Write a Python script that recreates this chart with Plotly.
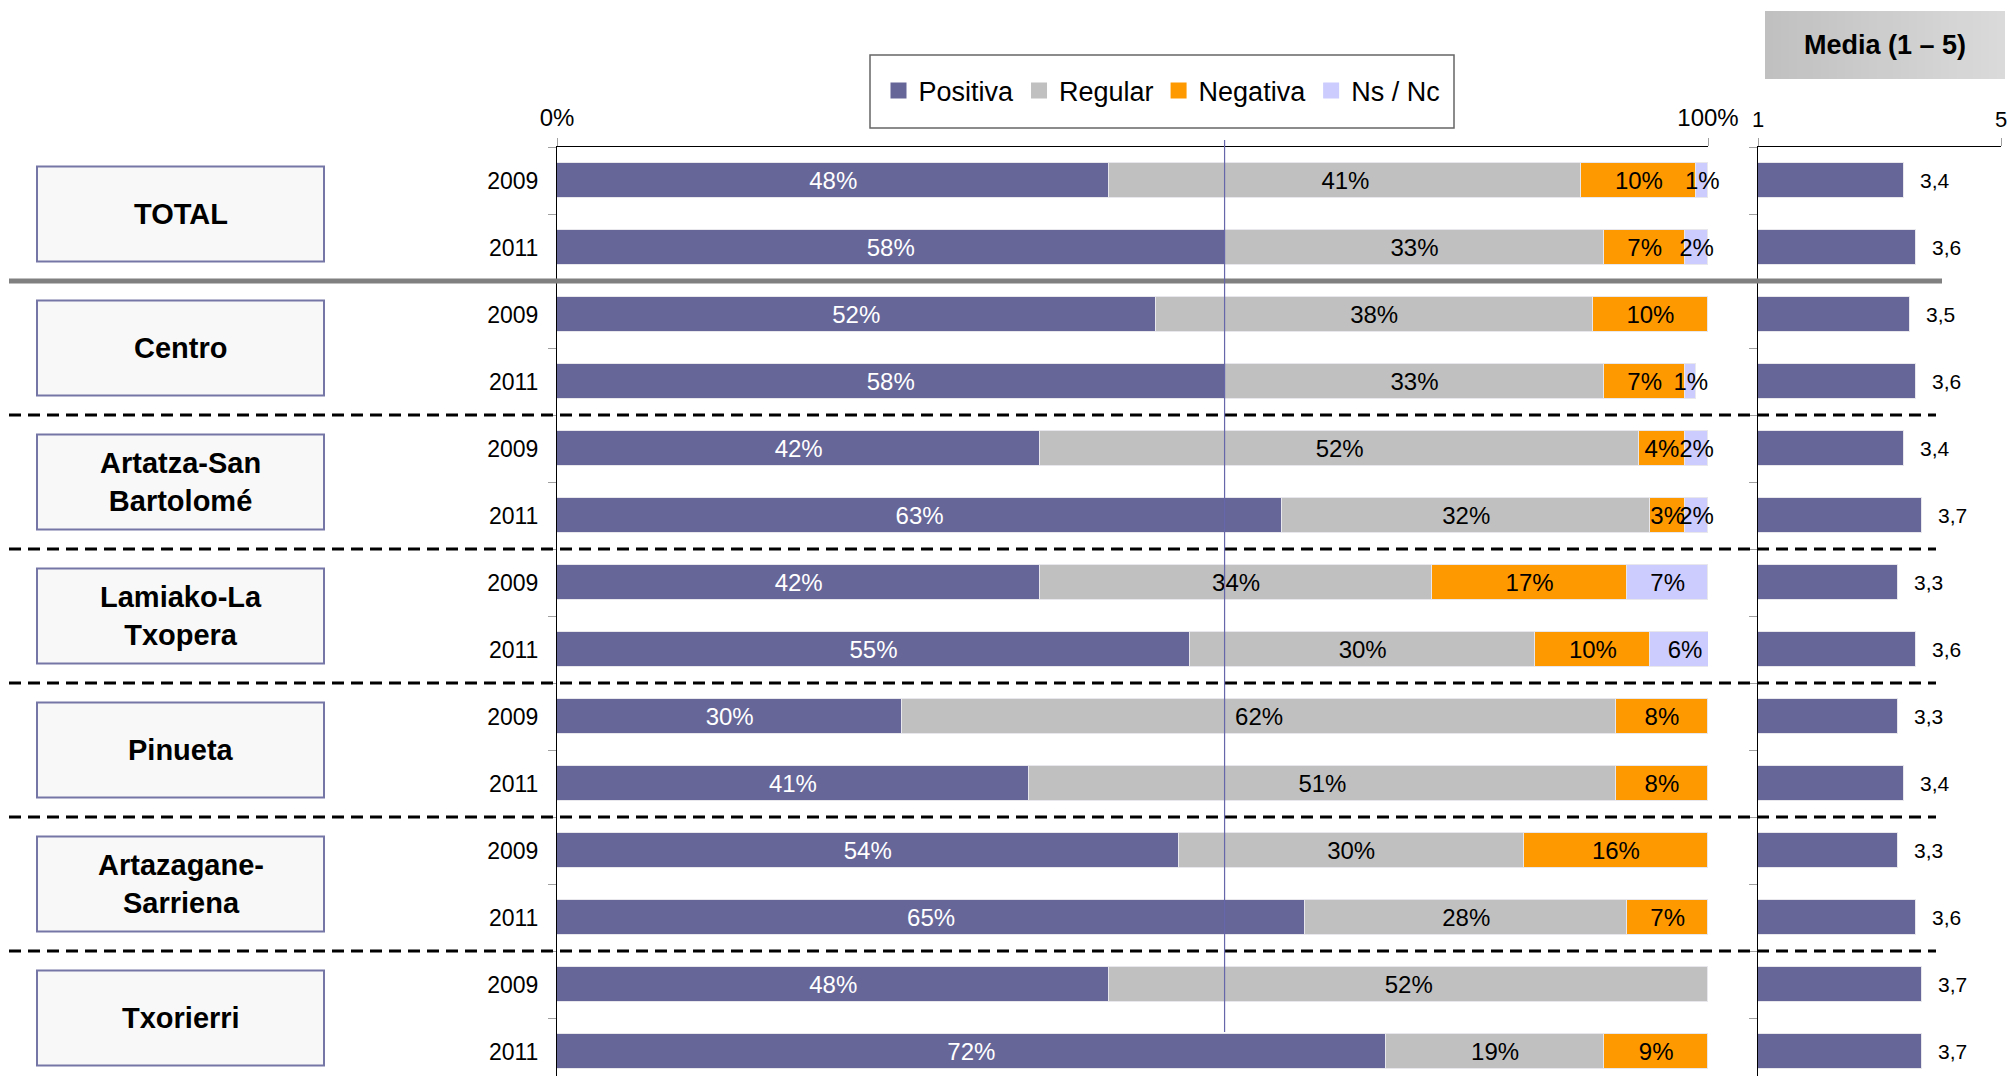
import plotly.graph_objects as go

# ---------------- data ----------------
groups = ["TOTAL", "Centro", "Artatza-San<br>Bartolomé", "Lamiako-La<br>Txopera",
          "Pinueta", "Artazagane-<br>Sarriena", "Txorierri"]
years = ["2009", "2011"]
series_names = ["Positiva", "Regular", "Negativa", "Ns / Nc"]
positiva = [48, 58, 52, 58, 42, 63, 42, 55, 30, 41, 54, 65, 48, 72]
regular = [41, 33, 38, 33, 52, 32, 34, 30, 62, 51, 30, 28, 52, 19]
negativa = [10, 7, 10, 7, 4, 3, 17, 10, 8, 8, 16, 7, 0, 9]
nsnc = [1, 2, 0, 1, 2, 2, 7, 6, 0, 0, 0, 0, 0, 0]
media = [3.4, 3.6, 3.5, 3.6, 3.4, 3.7, 3.3, 3.6, 3.3, 3.4, 3.3, 3.6, 3.7, 3.7]
x_ticks_main = [0, 100]
x_ticklabels_main = ["0%", "100%"]
x_ticks_media = [1, 5]
x_ticklabels_media = ["1", "5"]

# ---------------- style ----------------
W, H = 2009, 1076
FONT = "Liberation Sans, Arial, sans-serif"
colors = ["#666699", "#C0C0C0", "#FF9900", "#CCCCFF"]
text_colors = ["white", "black", "black", "black"]
edge = "rgba(232,232,236,1)"

n = len(positiva)
ypos = list(range(n))
ytext = [years[i % 2] for i in range(n)]


def px_x(p):
    return p / W


def px_y(p):
    return 1 - p / H


top_px = 147
band_px = 67
y_top = -0.5
y_bottom = y_top + (H - top_px) / band_px
label_drop = 0.04  # small downward nudge of segment labels (in band units)

fig = go.Figure()

series = [positiva, regular, negativa, nsnc]
# stacked bars
for name, vals, c in zip(series_names, series, colors):
    fig.add_trace(go.Bar(
        name=name, orientation="h", y=ypos, x=[v if v else None for v in vals],
        marker=dict(color=c, line=dict(color=edge, width=1)),
        width=0.51, showlegend=False, hoverinfo="skip",
        xaxis="x", yaxis="y",
    ))

# segment labels, placed at the middle of each stacked segment
base = [0] * n
for name, vals, tc in zip(series_names, series, text_colors):
    xs, ys, ts = [], [], []
    for i, v in enumerate(vals):
        if v:
            xs.append(base[i] + v / 2)
            ys.append(i + label_drop)
            ts.append(f"{v}%")
        base[i] += v
    fig.add_trace(go.Scatter(
        x=xs, y=ys, text=ts, mode="text", textposition="middle center",
        textfont=dict(family=FONT, size=24, color=tc),
        cliponaxis=False, showlegend=False, hoverinfo="skip",
        xaxis="x", yaxis="y",
    ))

# legend entries (square swatches)
for name, c in zip(series_names, colors):
    fig.add_trace(go.Scatter(
        x=[None], y=[None], mode="markers", name=name,
        marker=dict(symbol="square", size=16, color=c),
        xaxis="x", yaxis="y",
    ))

# media bars
fig.add_trace(go.Bar(
    name="Media", orientation="h", y=ypos, x=media,
    marker=dict(color=colors[0], line=dict(color=edge, width=1)),
    width=0.51, showlegend=False, hoverinfo="skip",
    xaxis="x2", yaxis="y2",
))

annotations = []
for yv, m in zip(ypos, media):
    annotations.append(dict(
        x=m, y=yv, xref="x2", yref="y2", xanchor="left", yanchor="middle",
        xshift=14, showarrow=False,
        text=f"{m:.1f}".replace(".", ","),
        font=dict(family=FONT, size=21, color="black"),
    ))

shapes = []
for gi, g in enumerate(groups):
    yc = gi * 2 + 0.5
    shapes.append(dict(
        type="rect", xref="paper", yref="y",
        x0=px_x(37), x1=px_x(324), y0=yc - 0.71, y1=yc + 0.71,
        line=dict(color="#7676A6", width=2), fillcolor="#F8F8F8", layer="above",
    ))
    annotations.append(dict(
        x=px_x(180.5), y=yc, xref="paper", yref="y", showarrow=False,
        text=f"<b>{g}</b>", font=dict(family=FONT, size=29, color="black"),
        xanchor="center", yanchor="middle",
    ))

shapes.append(dict(type="line", xref="paper", yref="y", x0=px_x(9), x1=px_x(1942),
                   y0=1.5, y1=1.5, line=dict(color="#808080", width=5), layer="above"))
for gi in range(1, len(groups) - 1):
    yb = gi * 2 + 1.5
    shapes.append(dict(type="line", xref="paper", yref="y", x0=px_x(9), x1=px_x(1936),
                       y0=yb, y1=yb, line=dict(color="black", width=3, dash="12px,7px"),
                       layer="above"))

shapes.append(dict(type="line", xref="x", yref="paper", x0=positiva[1], x1=positiva[1],
                   y0=px_y(140), y1=px_y(1032), line=dict(color="#6666AA", width=1.2),
                   layer="above"))

shapes.append(dict(type="rect", xref="paper", yref="paper",
                   x0=px_x(870), x1=px_x(1454), y0=px_y(55), y1=px_y(128),
                   line=dict(color="#666666", width=1.5), fillcolor="rgba(0,0,0,0)"))

hx0, hx1 = 1765, 2005
nsl = 30
c0, c1 = 192, 218
for i in range(nsl):
    a = hx0 + (hx1 - hx0) * i / nsl
    b = hx0 + (hx1 - hx0) * (i + 1) / nsl + 0.6
    v = round(c0 + (c1 - c0) * i / (nsl - 1))
    shapes.append(dict(type="rect", xref="paper", yref="paper",
                       x0=px_x(a), x1=px_x(min(b, hx1)), y0=px_y(11), y1=px_y(79),
                       line=dict(width=0), fillcolor=f"rgb({v},{v},{v})", layer="below"))
annotations.append(dict(x=px_x(1885), y=px_y(45), xref="paper", yref="paper",
                        showarrow=False, text="<b>Media (1 – 5)</b>",
                        font=dict(family=FONT, size=27, color="black"),
                        xanchor="center", yanchor="middle"))

minor_vals = [y_top + i for i in range(n + 1)]
ydom = [0, px_y(top_px)]

fig.update_layout(
    template="none",
    width=W, height=H,
    margin=dict(l=0, r=0, t=0, b=0, pad=0),
    paper_bgcolor="white", plot_bgcolor="white",
    barmode="stack", bargap=0,
    font=dict(family=FONT, size=24, color="black"),
    showlegend=True,
    legend=dict(orientation="h", x=px_x(1162), xanchor="center", y=px_y(91),
                yanchor="middle", font=dict(family=FONT, size=27, color="black"),
                bgcolor="rgba(0,0,0,0)", borderwidth=0, traceorder="normal",
                itemwidth=30, tracegroupgap=0),
    xaxis=dict(domain=[px_x(557), px_x(1708)], range=[0, 100], side="top", anchor="y",
               automargin=False,
               showline=True, linecolor="black", linewidth=1,
               tickvals=x_ticks_main, ticktext=x_ticklabels_main,
               ticks="outside", ticklen=8, tickcolor="#A0A0A0", tickwidth=1,
               ticklabelstandoff=2,
               showgrid=False, zeroline=False, tickfont=dict(size=24)),
    yaxis=dict(domain=ydom, range=[y_bottom, y_top], anchor="x",
               automargin=False,
               tickvals=ypos, ticktext=ytext, ticks="", ticklabelstandoff=13,
               showline=True, linecolor="black", linewidth=1,
               showgrid=False, zeroline=False, tickfont=dict(size=23),
               minor=dict(tickvals=minor_vals, ticks="outside", ticklen=8,
                          tickcolor="#A0A0A0", tickwidth=1, showgrid=False)),
    xaxis2=dict(domain=[px_x(1758), px_x(2001)], range=[1, 5], side="top", anchor="y2",
                automargin=False,
                showline=True, linecolor="black", linewidth=1,
                tickvals=x_ticks_media, ticktext=x_ticklabels_media,
                ticks="outside", ticklen=8, tickcolor="#A0A0A0", tickwidth=1,
                ticklabelstandoff=2,
                showgrid=False, zeroline=False, tickfont=dict(size=22)),
    yaxis2=dict(domain=ydom, range=[y_bottom, y_top], anchor="x2",
                automargin=False,
                tickvals=ypos, showticklabels=False, ticks="",
                showline=True, linecolor="black", linewidth=1,
                showgrid=False, zeroline=False,
                minor=dict(tickvals=minor_vals, ticks="outside", ticklen=8,
                           tickcolor="#A0A0A0", tickwidth=1, showgrid=False)),
    shapes=shapes,
    annotations=annotations,
)

fig.write_html(
    "out.html",
    config={"displayModeBar": False},
    post_script="document.body.style.margin='0';document.body.style.overflow='hidden';",
)
